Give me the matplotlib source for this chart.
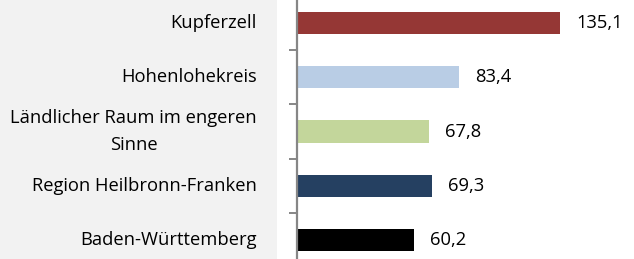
import matplotlib
matplotlib.use("Agg")
import matplotlib.pyplot as plt
import matplotlib.transforms as mtransforms
from matplotlib.patches import Rectangle

categories = ["Kupferzell", "Hohenlohekreis", "Ländlicher Raum im engeren\nSinne",
              "Region Heilbronn-Franken", "Baden-Württemberg"]
values = [135.1, 83.4, 67.8, 69.3, 60.2]
value_labels = ["135,1", "83,4", "67,8", "69,3", "60,2"]
colors = ["#953735", "#b9cde5", "#c3d69b", "#254061", "#000000"]

W, H = 634, 259
fig = plt.figure(figsize=(W / 100, H / 100), dpi=100)
fig.patch.set_facecolor("white")
fig.patches.append(Rectangle((0, 0), 277 / W, 1, transform=fig.transFigure,
                             facecolor="#f2f2f2", edgecolor="none", zorder=-5))

ax = fig.add_axes([296.5 / W, 0, 1 - 296.5 / W, 1])
ax.set_facecolor("none")
pos = list(range(len(categories)))
ax.barh(pos, values, height=0.41, color=colors, zorder=2)
ax.set_xlim(0, 173)
ax.set_ylim(4.35, -0.424)

for s in ["top", "right", "bottom"]:
    ax.spines[s].set_visible(False)
ax.spines["left"].set_color("#868686")
ax.spines["left"].set_linewidth(1.6)
ax.set_xticks([])
ax.set_yticks([p + 0.5 for p in pos[:-1]])
ax.set_yticklabels([])
ax.tick_params(axis="y", length=6, width=1.4, color="#868686")

font = "Open Sans"
fs = 13.2
for p, v, lab in zip(pos, values, value_labels):
    ax.text(v + 8.3, p, lab, va="center", ha="left", fontsize=fs,
            family=font, color="#000000")

trans = mtransforms.blended_transform_factory(fig.transFigure, ax.transData)
for p, c in zip(pos, categories):
    fig.text(257 / W, 0, c, transform=trans, ha="right", va="center",
             multialignment="center", fontsize=fs, family=font,
             color="#000000", linespacing=1.63)
for t, p in zip(fig.texts, pos):
    t.set_position((257 / W, p))

fig.savefig("out.png", dpi=100)
